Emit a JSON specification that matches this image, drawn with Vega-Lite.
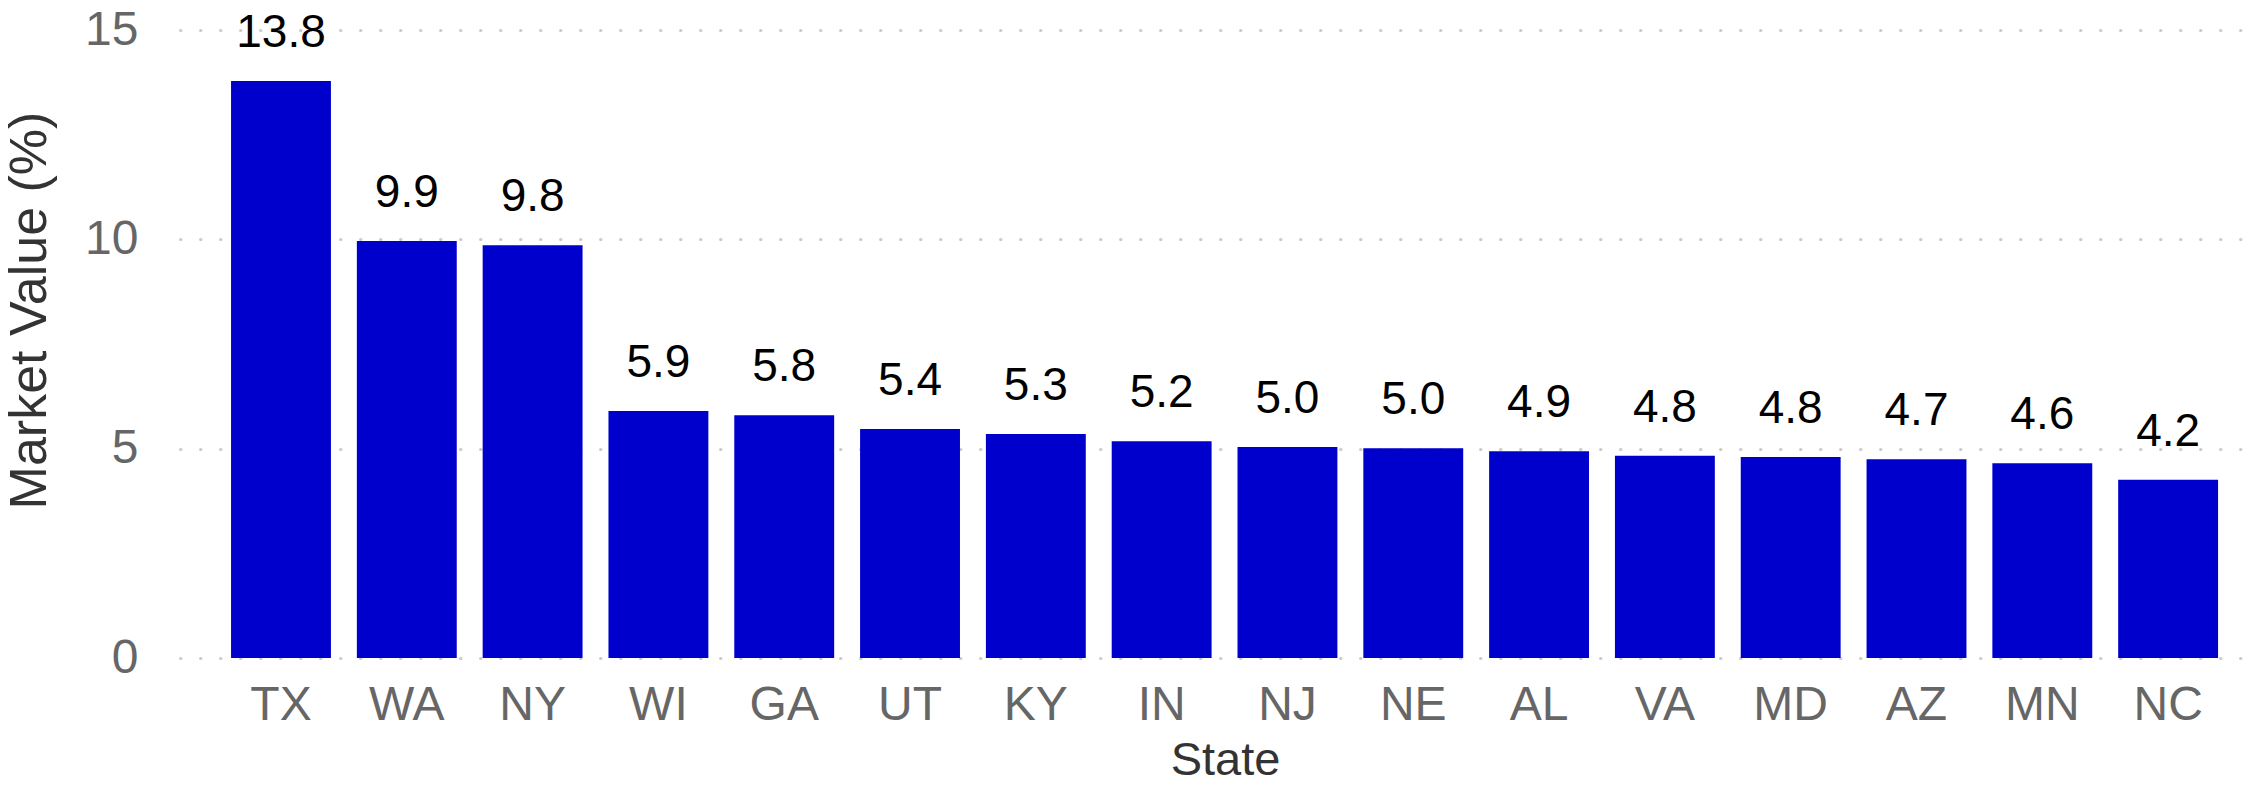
{
  "$schema": "https://vega.github.io/schema/vega-lite/v6.json",
  "width": 2061,
  "height": 628,
  "autosize": {"type": "none"},
  "padding": {"left": 180, "top": 30, "right": 18, "bottom": 127},
  "background": "white",
  "config": {"view": {"stroke": null}, "font": "Liberation Sans"},
  "data": {
    "values": [
      {"state": "TX", "value": 13.78, "label": "13.8"},
      {"state": "WA", "value": 9.96, "label": "9.9"},
      {"state": "NY", "value": 9.86, "label": "9.8"},
      {"state": "WI", "value": 5.9, "label": "5.9"},
      {"state": "GA", "value": 5.8, "label": "5.8"},
      {"state": "UT", "value": 5.47, "label": "5.4"},
      {"state": "KY", "value": 5.35, "label": "5.3"},
      {"state": "IN", "value": 5.18, "label": "5.2"},
      {"state": "NJ", "value": 5.04, "label": "5.0"},
      {"state": "NE", "value": 5.01, "label": "5.0"},
      {"state": "AL", "value": 4.94, "label": "4.9"},
      {"state": "VA", "value": 4.83, "label": "4.8"},
      {"state": "MD", "value": 4.8, "label": "4.8"},
      {"state": "AZ", "value": 4.75, "label": "4.7"},
      {"state": "MN", "value": 4.65, "label": "4.6"},
      {"state": "NC", "value": 4.26, "label": "4.2"}
    ]
  },
  "encoding": {
    "x": {
      "field": "state",
      "type": "nominal",
      "sort": null,
      "scale": {"paddingInner": 0.206, "paddingOuter": 0.294, "align": 0.69},
      "axis": {
        "title": "State",
        "labelAngle": 0,
        "labelFontSize": 48,
        "labelColor": "#666666",
        "labelPadding": 23,
        "labelBaseline": "top",
        "ticks": false,
        "domain": false,
        "grid": false,
        "titleFontSize": 47,
        "titleFontWeight": "normal",
        "titleColor": "#333333",
        "titleX": 1045,
        "titleY": 116,
        "titleAlign": "center",
        "titleBaseline": "alphabetic"
      }
    },
    "y": {
      "field": "value",
      "type": "quantitative",
      "scale": {"domain": [0, 15], "nice": false, "zero": true},
      "axis": {
        "title": "Market Value (%)",
        "values": [0, 5, 10, 15],
        "labelFontSize": 48,
        "labelColor": "#666666",
        "labelPadding": 42,
        "ticks": false,
        "domain": false,
        "grid": true,
        "gridColor": "#cccccc",
        "gridWidth": 3,
        "gridDash": [0.5, 19.5],
        "gridCap": "round",
        "titleFontSize": 52,
        "titleFontWeight": "normal",
        "titleColor": "#333333",
        "titleAngle": -90,
        "titleX": -151,
        "titleY": 280,
        "titleAlign": "center",
        "titleBaseline": "middle"
      }
    }
  },
  "layer": [
    {"mark": {"type": "bar", "color": "#0000CD"}},
    {
      "mark": {"type": "text", "dy": -34, "baseline": "alphabetic", "fontSize": 46, "color": "black"},
      "encoding": {"text": {"field": "label"}}
    }
  ]
}
